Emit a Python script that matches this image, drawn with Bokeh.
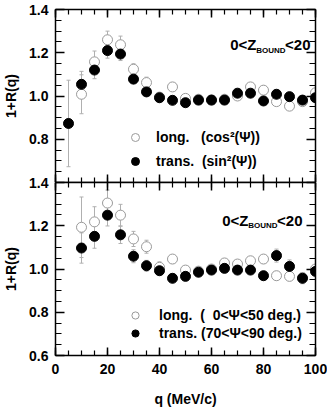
from bokeh.plotting import figure
from bokeh.models import (LinearAxis, Range1d, FixedTicker, SingleIntervalTicker, Whisker,
                          TeeHead, ColumnDataSource, Label, Legend, LegendItem,
                          PrintfTickFormatter, CustomJSTickFormatter)
from bokeh.layouts import column
from bokeh.embed import file_html
from bokeh.resources import INLINE

FONT = "Liberation Sans"

# ---------------- data ----------------
# top panel: longitudinal (cos^2) vs transverse (sin^2)
q_top_long = [10, 15, 20, 25, 30, 35, 40, 45, 50, 55, 60, 65, 70, 75, 80, 85, 90, 95, 100]
r_top_long = [1.008, 1.158, 1.260, 1.237, 1.124, 1.062, 0.995, 1.042, 0.989, 0.985,
              0.982, 0.985, 1.000, 1.042, 1.027, 0.974, 0.953, 0.974, 1.015]
e_top_long = [0.09, 0.05, 0.04, 0.04, 0.025, 0.025, 0.02, 0.02, 0.015, 0.015,
              0.015, 0.015, 0.015, 0.015, 0.02, 0.015, 0.015, 0.015, 0.015]

q_top_trans = [5, 10, 15, 20, 25, 30, 35, 40, 45, 50, 55, 60, 65, 70, 75, 80, 85, 90, 95, 100]
r_top_trans = [0.873, 1.054, 1.120, 1.210, 1.194, 1.078, 1.019, 0.992, 0.980, 0.969,
               0.981, 0.981, 0.981, 1.013, 1.013, 0.977, 1.008, 0.997, 0.981, 0.992]
e_top_trans = [0.20, 0.06, 0.04, 0.035, 0.03, 0.02, 0.015, 0.015, 0.015, 0.015,
               0.015, 0.015, 0.015, 0.015, 0.015, 0.015, 0.015, 0.015, 0.015, 0.015]

# bottom panel: angular cuts
q_bot_long = [10, 15, 20, 25, 30, 35, 40, 45, 50, 55, 60, 65, 70, 75, 80, 85, 90, 95, 100]
r_bot_long = [1.193, 1.218, 1.305, 1.249, 1.139, 1.103, 1.008, 1.046, 0.995, 0.990,
              1.000, 1.028, 1.023, 1.038, 1.046, 0.969, 0.966, 0.960, 1.000]
e_bot_long = [0.14, 0.07, 0.06, 0.05, 0.035, 0.03, 0.025, 0.02, 0.02, 0.02,
              0.02, 0.02, 0.02, 0.02, 0.02, 0.02, 0.02, 0.02, 0.02]

q_bot_trans = [10, 15, 20, 25, 30, 35, 40, 45, 50, 55, 60, 65, 70, 75, 80, 85, 90, 95, 100]
r_bot_trans = [1.097, 1.151, 1.249, 1.158, 1.059, 1.015, 0.992, 0.957, 0.966, 0.985,
               0.995, 1.003, 0.995, 0.995, 0.969, 1.062, 1.012, 0.957, 0.989]
e_bot_trans = [0.07, 0.055, 0.05, 0.04, 0.03, 0.025, 0.02, 0.02, 0.02, 0.02,
               0.02, 0.02, 0.02, 0.02, 0.02, 0.03, 0.03, 0.025, 0.02]

top_labels = ["long.\u00a0\u00a0\u00a0(cos\u00b2(\u03a8))", "trans.\u00a0\u00a0(sin\u00b2(\u03a8))"]
bot_labels = ["long.\u00a0\u00a0(\u00a0\u00a00<\u03a8<50 deg.)", "trans.\u00a0(70<\u03a8<90 deg.)"]

y_major_top = [0.8, 1.0, 1.2, 1.4]
y_major_bot = [0.6, 0.8, 1.0, 1.2, 1.4]
y_minor = [0.6 + 0.05 * i for i in range(17)]


def style_axis(ax, labels, major_in, minor_in):
    ax.major_tick_in = major_in
    ax.major_tick_out = 0
    ax.minor_tick_in = minor_in
    ax.minor_tick_out = 0
    ax.axis_line_width = 1.5
    ax.axis_line_color = "black"
    ax.major_tick_line_width = 1.5
    ax.minor_tick_line_width = 1.2
    ax.major_tick_line_color = "black"
    ax.minor_tick_line_color = "black"
    if labels:
        ax.major_label_text_font = FONT
        ax.major_label_text_font_style = "bold"
        ax.major_label_text_font_size = "14px"
        ax.major_label_text_color = "black"
        ax.axis_label_text_font = FONT
        ax.axis_label_text_font_style = "bold"
        ax.axis_label_text_font_size = "14px"
        ax.axis_label_text_color = "black"
    else:
        ax.formatter = CustomJSTickFormatter(code="return ''")
        ax.major_label_text_font_size = "1px"
        ax.major_label_standoff = 0


def add_whiskers(p, q, r, e):
    lower = [v - d for v, d in zip(r, e)]
    upper = [v + d for v, d in zip(r, e)]
    src = ColumnDataSource(dict(q=q, lower=lower, upper=upper))
    p.add_layout(Whisker(source=src, base="q", lower="lower", upper="upper",
                         line_color="#b0b0b0", line_width=1,
                         upper_head=TeeHead(size=4, line_color="#b0b0b0", line_width=1),
                         lower_head=TeeHead(size=4, line_color="#b0b0b0", line_width=1)))


def make_panel(height, border_top, border_bottom, y_major, show_x_labels, **kw):
    p = figure(width=327, height=height, x_range=Range1d(0, 100), y_range=Range1d(0.6, 1.4),
               x_axis_type=None, y_axis_type=None, output_backend="svg", toolbar_location=None,
               min_border_left=52, min_border_right=12, min_border_top=border_top,
               min_border_bottom=border_bottom, **kw)
    p.outline_line_color = None
    p.background_fill_color = "white"

    xt = SingleIntervalTicker(interval=20, num_minor_ticks=4)
    yt = FixedTicker(ticks=y_major, minor_ticks=y_minor)

    left = LinearAxis(ticker=yt, axis_label="1+R(q)", formatter=PrintfTickFormatter(format="%.1f"))
    style_axis(left, True, 9, 6)
    left.major_label_standoff = 7
    left.axis_label_standoff = 7
    p.add_layout(left, "left")

    right = LinearAxis(ticker=yt)
    style_axis(right, False, 9, 6)
    p.add_layout(right, "right")

    above = LinearAxis(ticker=xt)
    style_axis(above, False, 8, 5)
    p.add_layout(above, "above")

    below = LinearAxis(ticker=xt)
    if show_x_labels:
        style_axis(below, True, 8, 5)
        below.axis_label = "q (MeV/c)"
        below.major_label_standoff = 8
        below.axis_label_standoff = 14
    else:
        style_axis(below, False, 8, 5)
    p.add_layout(below, "below")
    return p


def draw(p, ql, rl, el, qt, rt, et, labels, loc, lab_h, spacing, standoff):
    add_whiskers(p, ql, rl, el)
    add_whiskers(p, qt, rt, et)
    r_open = p.scatter(x=ql, y=rl, size=10, marker="circle", fill_color="white",
                       line_color="#9a9a9a", line_width=1)
    r_fill = p.scatter(x=qt, y=rt, size=10, marker="circle", fill_color="black",
                       line_color="black", line_width=1)
    leg = Legend(items=[LegendItem(label=labels[0], renderers=[r_open]),
                        LegendItem(label=labels[1], renderers=[r_fill])],
                 location=loc, orientation="vertical", glyph_width=20, glyph_height=lab_h,
                 label_height=lab_h, spacing=spacing, label_standoff=standoff, padding=0,
                 margin=0, border_line_alpha=0, background_fill_alpha=0,
                 label_text_font=FONT, label_text_font_style="bold",
                 label_text_font_size="14px", label_text_color="black")
    p.add_layout(leg)


def zbound(p, y_main, y_sub, end_off):
    w_lt20 = 25
    w_bound = 29
    common = dict(text_font=FONT, text_font_style="bold", text_color="black",
                  text_align="right", text_baseline="middle")
    p.add_layout(Label(x=100, y=y_main, x_offset=end_off, text="<20",
                       text_font_size="15px", **common))
    p.add_layout(Label(x=100, y=y_sub, x_offset=end_off - w_lt20, text="BOUND",
                       text_font_size="8px", **common))
    p.add_layout(Label(x=100, y=y_main, x_offset=end_off - w_lt20 - w_bound, text="0<Z",
                       text_font_size="15px", **common))


# ---------------- top panel ----------------
p1 = make_panel(182, 9, 0, y_major_top, False)
draw(p1, q_top_long, r_top_long, e_top_long, q_top_trans, r_top_trans, e_top_trans,
     top_labels, (70, 11), 20, 4, 11)
zbound(p1, 1.238, 1.21, -5)

# ---------------- bottom panel ----------------
# pulled up by its (transparent) top border so its "1.4" label sits on the shared edge
p2 = make_panel(236, 9, 52, y_major_bot, True, margin=(-9, 0, 0, 0))
p2.border_fill_alpha = 0
draw(p2, q_bot_long, r_bot_long, e_bot_long, q_bot_trans, r_bot_trans, e_bot_trans,
     bot_labels, (70, 13), 18, 0, 14)
zbound(p2, 1.226, 1.199, -13)

layout = column(p1, p2, spacing=0)
open("out.html", "w").write(file_html(layout, INLINE))
